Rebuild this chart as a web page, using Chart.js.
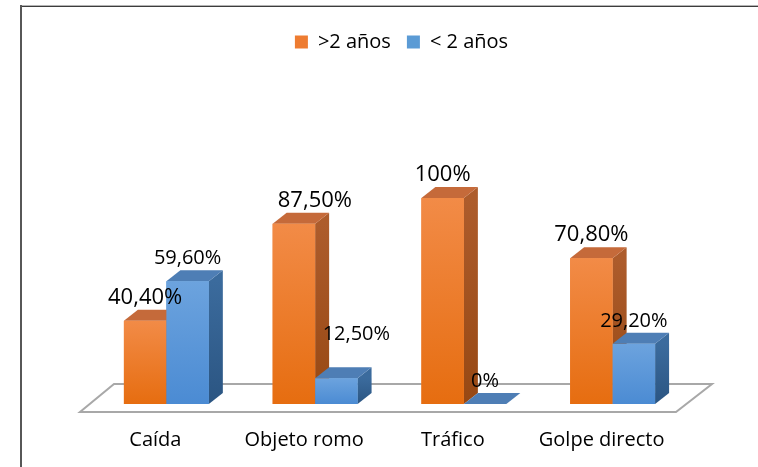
<!DOCTYPE html>
<html>
<head>
<meta charset="utf-8">
<script src="https://cdn.jsdelivr.net/npm/chart.js@4.4.1/dist/chart.umd.min.js"></script>
<style>
  html, body { margin: 0; padding: 0; background: #fff; }
  #wrap { width: 758px; height: 467px; position: relative; }
</style>
</head>
<body>
<div id="wrap"><canvas id="c" width="758" height="467"></canvas></div>
<script>
const categories = ['Caída', 'Objeto romo', 'Tráfico', 'Golpe directo'];
const seriesNames = ['>2 años', '< 2 años'];
const mayor2 = [40.4, 87.5, 100, 70.8];
const menor2 = [59.6, 12.5, 0, 29.2];
const yMin = 0;
const yMax = 100;

const FONT = "'Open Sans', sans-serif";
const DEPTH_X = 14, DEPTH_Y = 11;
const LEGEND_H = 182;

const faces = [
  { front: ['#F28B47', '#E66D10'], side: ['#AD5C2C', '#974813'], top: '#C56A3A', legend: '#EE7C31' },
  { front: ['#6CA3DE', '#4B8BD3'], side: ['#3B6B9D', '#2B5582'], top: '#4E7EB5', legend: '#5B9BD5' }
];

// manual label nudges (pixels) per [dataset][category], as placed in the original
const labelNudge = [
  [[0, 0], [21, 0], [0, 0], [0, 0]],
  [[0, 0], [20, -21], [0, 0], [0, 0]]
];

function fmt(v) {
  if (Number.isInteger(v)) return v + '%';
  return v.toFixed(2).replace('.', ',') + '%';
}

const frame = {
  id: 'frame',
  beforeDraw(chart) {
    const ctx = chart.ctx;
    ctx.save();
    ctx.fillStyle = '#ffffff';
    ctx.fillRect(0, 0, chart.width, chart.height);
    ctx.fillStyle = '#b4b4b4';
    ctx.fillRect(20, 5, chart.width - 20, 1);
    ctx.fillStyle = '#3c3c3c';
    ctx.fillRect(20, 6, chart.width - 20, 1);
    ctx.fillStyle = '#575757';
    ctx.fillRect(20, 5, 2, chart.height - 5);
    ctx.restore();
  }
};

const legendSpacer = {
  id: 'legendSpacer',
  beforeUpdate(chart) {
    const lg = chart.legend;
    if (lg && !lg._spacerPatched) {
      const f = lg.fit;
      lg.fit = function () { f.call(this); this.height = LEGEND_H; };
      lg._spacerPatched = true;
    }
  }
};

const floor = {
  id: 'floor',
  beforeDatasetsDraw(chart) {
    const a = chart.chartArea, ctx = chart.ctx;
    const yb = chart.scales.y.getPixelForValue(0);
    ctx.save();
    ctx.beginPath();
    ctx.moveTo(a.left - 12, yb + 8);
    ctx.lineTo(a.right - 11, yb + 8);
    ctx.lineTo(a.right + 25, yb - 20);
    ctx.lineTo(a.left + 22, yb - 20);
    ctx.closePath();
    ctx.fillStyle = '#ffffff';
    ctx.fill();
    ctx.strokeStyle = '#a8a8a8';
    ctx.lineWidth = 2;
    ctx.stroke();
    ctx.restore();
  }
};

const bars3d = {
  id: 'bars3d',
  afterDatasetsDraw(chart) {
    const ctx = chart.ctx;
    const metas = chart.data.datasets.map((d, i) => chart.getDatasetMeta(i));
    ctx.save();
    for (let i = 0; i < categories.length; i++) {
      for (let d = 0; d < metas.length; d++) {
        const bar = metas[d].data[i];
        const p = bar.getProps(['x', 'y', 'base', 'width'], true);
        const l = p.x - p.width / 2, r = p.x + p.width / 2;
        const t = Math.min(p.y, p.base), b = Math.max(p.y, p.base);
        const f = faces[d];
        if (b - t > 0.5) {
          const gs = ctx.createLinearGradient(0, t, 0, b);
          gs.addColorStop(0, f.side[0]); gs.addColorStop(1, f.side[1]);
          ctx.beginPath();
          ctx.moveTo(r, t); ctx.lineTo(r + DEPTH_X, t - DEPTH_Y);
          ctx.lineTo(r + DEPTH_X, b - DEPTH_Y); ctx.lineTo(r, b);
          ctx.closePath(); ctx.fillStyle = gs; ctx.fill();
        }
        ctx.beginPath();
        ctx.moveTo(l, t); ctx.lineTo(r, t);
        ctx.lineTo(r + DEPTH_X, t - DEPTH_Y); ctx.lineTo(l + DEPTH_X, t - DEPTH_Y);
        ctx.closePath(); ctx.fillStyle = f.top; ctx.fill();
        if (b - t > 0.5) {
          const gf = ctx.createLinearGradient(0, t, 0, b);
          gf.addColorStop(0, f.front[0]); gf.addColorStop(1, f.front[1]);
          ctx.fillStyle = gf;
          ctx.fillRect(l, t, r - l, b - t);
        }
      }
    }
    ctx.fillStyle = '#000';
    ctx.textAlign = 'center';
    ctx.textBaseline = 'alphabetic';
    for (let d = 0; d < metas.length; d++) {
      ctx.font = (d === 0 ? '22px ' : '20px ') + FONT;
      const vals = chart.data.datasets[d].data;
      metas[d].data.forEach((bar, i) => {
        const p = bar.getProps(['x', 'y'], true);
        const n = labelNudge[d][i];
        ctx.fillText(fmt(vals[i]), p.x + n[0], p.y - 17 + n[1]);
      });
    }
    ctx.restore();
  }
};

new Chart(document.getElementById('c'), {
  type: 'bar',
  data: {
    labels: categories,
    datasets: [
      { label: seriesNames[0], data: mayor2, backgroundColor: faces[0].legend, borderWidth: 0 },
      { label: seriesNames[1], data: menor2, backgroundColor: faces[1].legend, borderWidth: 0 }
    ]
  },
  options: {
    responsive: false,
    animation: false,
    devicePixelRatio: 1,
    layout: { padding: { left: 92, right: 47, top: 16, bottom: 0 } },
    datasets: { bar: { categoryPercentage: 0.571, barPercentage: 1 } },
    plugins: {
      tooltip: { enabled: false },
      legend: {
        position: 'top',
        labels: {
          font: { family: FONT, size: 20 },
          color: '#000',
          boxWidth: 13,
          boxHeight: 13,
          padding: 16
        }
      }
    },
    scales: {
      x: {
        grid: { display: false, drawTicks: false },
        border: { display: false },
        ticks: {
          font: { family: FONT, size: 20 },
          color: '#000',
          padding: 24,
          labelOffset: -11,
          maxRotation: 0,
          autoSkip: false
        },
        afterFit(s) { s.height = 63; }
      },
      y: {
        position: 'right',
        min: yMin,
        max: yMax,
        grid: { display: false, drawTicks: false },
        border: { display: false },
        ticks: { display: false },
        afterFit(s) { s.width = 24; }
      }
    }
  },
  plugins: [frame, legendSpacer, floor, bars3d]
});
</script>
</body>
</html>
